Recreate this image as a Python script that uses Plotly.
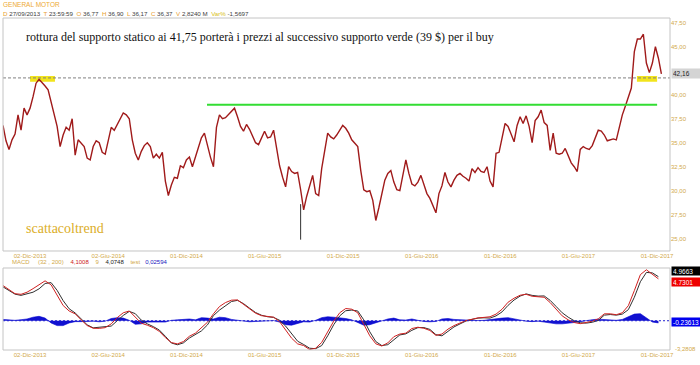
import plotly.graph_objects as go
import pandas as pd

# ---------------- data ----------------
series_start = "2013-09-30"

# weekly closes (GM, Sep 2013 - Dec 2017)
price_close = [
    36.8, 35.2, 34.3, 35.3, 35.9, 37.9, 36.3, 38.6, 37.9, 38.6,
    39.8, 41.2, 41.6, 41.3, 40.9, 40.5, 39.3, 37.8, 36.7, 34.6,
    35.8, 36.6, 36.3, 37.5, 33.7, 35.3, 35.0, 34.6, 33.4, 33.2,
    34.6, 35.2, 35.0, 34.0, 33.8, 35.2, 36.6, 36.3, 36.9, 37.5,
    38.1, 37.9, 37.5, 35.3, 33.9, 33.2, 34.1, 34.7, 35.0, 34.6,
    33.4, 33.8, 33.4, 34.0, 31.0, 29.5, 30.6, 31.4, 31.3, 32.6,
    32.4, 33.2, 33.5, 32.5, 33.5, 34.6, 35.5, 36.0, 34.6, 33.5,
    32.5, 36.6, 37.9, 37.5, 37.6, 37.9, 38.3, 38.6, 37.7, 36.7,
    36.2, 36.9, 36.4, 35.6, 35.0, 34.8, 35.5, 36.2, 35.5, 35.6,
    36.3, 34.2, 32.6, 31.4, 30.4, 32.5, 32.0, 31.8, 31.9, 30.1,
    28.0, 29.4, 30.6, 31.6, 29.7, 29.5, 32.3, 34.0, 36.0, 35.6,
    35.4, 35.8, 36.3, 36.8, 36.5, 36.0, 35.3, 34.9, 34.6, 32.1,
    30.1, 29.9, 30.0, 29.0, 26.9, 28.2, 29.5, 31.1, 31.8, 32.1,
    30.9, 30.1, 30.0, 31.6, 33.2, 31.8, 30.7, 30.5, 30.9, 31.6,
    30.6, 29.7, 29.2, 28.5, 27.7, 29.7, 30.5, 31.9, 30.9, 30.4,
    31.1, 31.6, 31.8, 31.5, 31.3, 31.0, 32.3, 31.9, 32.4, 32.0,
    31.9, 32.5, 31.0, 30.4, 33.9, 34.0, 35.4, 37.0, 36.7, 35.8,
    35.1, 36.8, 37.7, 37.0, 37.8, 36.7, 35.0, 37.3, 37.7, 38.4,
    37.1, 36.8, 34.2, 36.0, 33.9, 33.8, 33.9, 34.4, 33.6, 32.9,
    32.5, 32.0, 34.3, 34.6, 34.4, 34.3, 34.7, 35.6, 36.3, 36.2,
    35.8, 35.2, 35.3, 35.4, 35.3, 36.7, 37.9, 38.8, 39.8, 40.7,
    44.5, 45.8, 45.8, 46.3, 43.3, 42.3, 43.3, 45.0, 43.8, 42.16,
]

# flash-crash spike (Aug 2015)
spike_dates = ["2015-08-24", "2015-08-24"]
spike_values = [28.6, 24.9]

# MACD (32,200) / signal (9) / histogram, read every two weeks
macd_line = [
    3.97, 3.48, 3.05, 2.98, 3.22, 3.62, 4.10, 4.50, 4.05, 2.88,
    1.72, 1.10, 0.78, 0.10, -0.54, -0.85, -0.86, -0.78, -0.35, 0.35,
    0.90, 1.10, 0.40, -0.28, -0.50, -0.78, -1.20, -1.90, -2.46, -2.61,
    -2.35, -1.75, -1.40, -0.80, -0.17, 0.78, 1.60, 2.05, 2.32, 2.35,
    1.85, 1.30, 0.85, 0.57, 0.47, 0.40, -0.10, -1.05, -1.97, -2.61,
    -2.80, -3.25, -3.10, -2.45, -1.25, -0.05, 0.90, 1.38, 1.30, 0.90,
    -0.40, -1.70, -2.60, -2.85, -2.50, -1.80, -1.50, -1.40, -0.88, -0.73,
    -0.85, -1.10, -1.65, -1.50, -0.95, -0.55, -0.26, 0.02, 0.17, 0.32,
    0.38, 0.45, 0.75, 1.30, 2.09, 2.54, 2.88, 2.98, 2.76, 2.73,
    2.65, 2.05, 1.25, 0.55, 0.10, -0.20, -0.33, -0.22, -0.05, 0.21,
    0.78, 0.78, 0.68, 0.90, 1.70, 3.40, 5.20, 5.75, 5.25, 4.73,
]
signal_line = [
    3.82, 3.38, 3.00, 2.86, 3.02, 3.22, 3.60, 4.20, 4.30, 3.43,
    2.27, 1.35, 0.88, 0.20, -0.46, -0.80, -0.74, -0.73, -0.60, 0.00,
    0.60, 1.05, 0.80, 0.07, -0.35, -0.66, -1.05, -1.75, -2.51, -2.71,
    -2.50, -1.95, -1.50, -1.15, -0.47, 0.58, 1.20, 1.70, 2.17, 2.30,
    1.93, 1.42, 0.93, 0.62, 0.45, 0.38, 0.05, -0.60, -1.47, -2.31,
    -2.68, -3.10, -3.15, -2.80, -1.70, -0.45, 0.55, 1.13, 1.20, 1.10,
    0.10, -1.25, -2.35, -2.80, -2.70, -2.10, -1.60, -1.48, -1.08, -0.78,
    -0.77, -0.98, -1.57, -1.70, -1.20, -0.70, -0.36, -0.03, 0.15, 0.30,
    0.33, 0.30, 0.55, 1.00, 1.74, 2.34, 2.78, 3.03, 2.86, 2.78,
    2.80, 2.30, 1.60, 0.90, 0.40, 0.00, -0.23, -0.27, -0.17, 0.03,
    0.63, 0.70, 0.63, 0.75, 1.25, 2.65, 4.40, 5.45, 5.40, 4.97,
]
macd_hist = [
    0.15, 0.10, 0.05, 0.12, 0.20, 0.40, 0.50, 0.30, -0.25, -0.55,
    -0.55, -0.25, -0.10, -0.10, -0.08, -0.05, -0.12, -0.05, 0.25, 0.35,
    0.30, 0.05, -0.40, -0.35, -0.15, -0.12, -0.15, -0.15, 0.05, 0.10,
    0.15, 0.20, 0.10, 0.35, 0.30, 0.20, 0.40, 0.35, 0.15, 0.05,
    -0.08, -0.12, -0.08, -0.05, 0.02, 0.02, -0.15, -0.45, -0.50, -0.30,
    -0.12, -0.15, 0.05, 0.35, 0.45, 0.40, 0.35, 0.25, 0.10, -0.20,
    -0.50, -0.45, -0.25, -0.05, 0.20, 0.30, 0.10, 0.08, 0.20, 0.05,
    -0.08, -0.12, -0.08, 0.20, 0.25, 0.15, 0.10, 0.05, 0.02, 0.02,
    0.05, 0.15, 0.20, 0.30, 0.35, 0.20, 0.10, -0.05, -0.10, -0.05,
    -0.15, -0.25, -0.35, -0.35, -0.30, -0.20, -0.10, 0.05, 0.12, 0.18,
    0.15, 0.08, 0.05, 0.15, 0.45, 0.75, 0.80, 0.30, -0.15, -0.24,
]

tick_dates = ["2013-12-02", "2014-06-02", "2014-12-01", "2015-06-01", "2015-12-01",
              "2016-06-01", "2016-12-01", "2017-06-01", "2017-12-01"]
tick_labels = ["02-Dic-2013", "02-Giu-2014", "01-Dic-2014", "01-Giu-2015", "01-Dic-2015",
               "01-Giu-2016", "01-Dic-2016", "01-Giu-2017", "01-Dic-2017"]
# 42,50 is hidden behind the last-price box in the reference
price_ticks = [25.0, 27.5, 30.0, 32.5, 35.0, 37.5, 40.0, 45.0, 47.5]
price_tick_labels = ["25,00", "27,50", "30,00", "32,50", "35,00", "37,50", "40,00", "45,00", "47,50"]

static_support = 41.75
green_support = 38.95
green_span = ["2015-01-18", "2017-12-01"]
highlight_spans = [("2013-12-02", "2014-01-29"), ("2017-10-15", "2017-12-01")]
highlight_band = [41.35, 41.95]
last_price = 42.16

# ---------------- figure ----------------
GOLD = "#d2a94a"
SANS = "Liberation Sans, Arial, sans-serif"
SERIF = "Liberation Serif, Times New Roman, serif"

week_dates = pd.date_range(series_start, periods=len(price_close), freq="7D")
macd_dates = pd.date_range(series_start, periods=len(macd_line), freq="14D")
x_range = ["2013-09-30", "2017-12-31"]

fig = go.Figure()
fig.add_trace(go.Scatter(x=spike_dates, y=spike_values, mode="lines",
                         line=dict(color="#303030", width=1), xaxis="x", yaxis="y"))
fig.add_trace(go.Scatter(x=week_dates, y=price_close, mode="lines",
                         line=dict(color="#a01a1a", width=1.4), xaxis="x", yaxis="y"))

fig.add_trace(go.Scatter(x=macd_dates, y=macd_hist, mode="lines", fill="tozeroy",
                         line=dict(color="#0000d0", width=0.6), fillcolor="#1010d0",
                         xaxis="x2", yaxis="y2"))
fig.add_trace(go.Scatter(x=macd_dates, y=signal_line, mode="lines",
                         line=dict(color="#303030", width=1), xaxis="x2", yaxis="y2"))
fig.add_trace(go.Scatter(x=macd_dates, y=macd_line, mode="lines",
                         line=dict(color="#d02020", width=1), xaxis="x2", yaxis="y2"))

shapes = []
for (a, b) in highlight_spans:
    shapes.append(dict(type="rect", xref="x", yref="y", x0=a, x1=b,
                       y0=highlight_band[0], y1=highlight_band[1],
                       fillcolor="#f2e41c", line=dict(width=0), layer="below"))
shapes.append(dict(type="line", xref="paper", yref="y", x0=0, x1=1,
                   y0=static_support, y1=static_support,
                   line=dict(color="#808080", width=1, dash="3px,2px")))
shapes.append(dict(type="line", xref="x", yref="y", x0=green_span[0], x1=green_span[1],
                   y0=green_support, y1=green_support,
                   line=dict(color="#33dd33", width=2)))
shapes.append(dict(type="line", xref="paper", yref="y2", x0=0, x1=1, y0=0, y1=0,
                   line=dict(color="#2020d0", width=1, dash="2px,2px")))
MAIN_DOM = [0.2982, 1.0]
MACD_DOM = [0.0, 0.247]
for dom in (MAIN_DOM, MACD_DOM):
    shapes.append(dict(type="rect", xref="paper", yref="paper", x0=0, x1=1,
                       y0=dom[0], y1=dom[1], line=dict(color="#c4c4c4", width=1),
                       fillcolor="rgba(0,0,0,0)"))

annotations = [
    dict(xref="paper", yref="paper", x=-0.003, y=1.041, xanchor="left", yanchor="middle",
         text="GENERAL MOTOR", showarrow=False, font=dict(family=SANS, size=6.5, color="#eeaa33")),
    dict(xref="paper", yref="paper", x=-0.003, y=1.0145, xanchor="left", yanchor="middle",
         text=("<span style='color:#e8a030'>D</span> 27/09/2013  <span style='color:#e8a030'>T</span> 23:59:59  "
               "<span style='color:#e8a030'>O</span> 36,77  <span style='color:#e8a030'>H</span> 36,90  "
               "<span style='color:#e8a030'>L</span> 36,17  <span style='color:#e8a030'>C</span> 36,37  "
               "<span style='color:#e8a030'>V</span> 2,8240 M  <span style='color:#d8c020'>Var%</span> -1,5697"),
         showarrow=False, font=dict(family=SANS, size=6.2, color="#404040")),
    dict(xref="paper", yref="paper", x=0.0315, y=0.9428, xanchor="left", yanchor="middle",
         text="rottura del supporto statico ai 41,75 porterà i prezzi al successivo supporto verde (39 $) per il buy",
         showarrow=False, font=dict(family=SERIF, size=12, color="#111111")),
    dict(xref="paper", yref="paper", x=0.0315, y=0.3645, xanchor="left", yanchor="middle",
         text="scattacoltrend", showarrow=False, font=dict(family=SERIF, size=14, color="#dcae28")),
    dict(xref="paper", yref="paper", x=0.011, y=0.265, xanchor="left", yanchor="middle",
         text=("<span style='color:#d2a94a'>MACD</span>     <span style='color:#d2a94a'>(32 , 200)</span>    "
               "<span style='color:#cc2020'>4,1008</span>    <span style='color:#d2a94a'>9</span>    "
               "<span style='color:#222222'>4,0748</span>    <span style='color:#d2a94a'>test</span>   "
               "<span style='color:#2020c0'>0,02594</span>"),
         showarrow=False, font=dict(family=SANS, size=6, color=GOLD)),
    dict(xref="paper", yref="y", x=1.0015, y=last_price, xanchor="left", yanchor="middle",
         text="42,16", showarrow=False, bgcolor="#d4d4d4", width=26, height=7, align="left",
         font=dict(family=SANS, size=6.5, color="#222222")),
    dict(xref="paper", yref="paper", x=1.0015, y=0.238, xanchor="left", yanchor="middle",
         text="4,9663", showarrow=False, bgcolor="#000000", width=26, height=6, align="left",
         font=dict(family=SANS, size=6.5, color="#ffffff")),
    dict(xref="paper", yref="paper", x=1.0015, y=0.2048, xanchor="left", yanchor="middle",
         text="4,7301", showarrow=False, bgcolor="#ee0000", width=26, height=6, align="left",
         font=dict(family=SANS, size=6.5, color="#ffffff")),
    dict(xref="paper", yref="paper", x=1.0015, y=0.084, xanchor="left", yanchor="middle",
         text="-0,23613", showarrow=False, bgcolor="#0000ee", width=26, height=6, align="left",
         font=dict(family=SANS, size=6.5, color="#ffffff")),
    dict(xref="paper", yref="paper", x=1.004, y=0.003, xanchor="left", yanchor="middle",
         text="-3,2808", showarrow=False, font=dict(family=SANS, size=6, color=GOLD)),
]

axis_common = dict(showgrid=False, zeroline=False, showline=False, ticks="")
fig.update_layout(
    width=700, height=365,
    margin=dict(l=3, r=30, t=18, b=15),
    paper_bgcolor="white", plot_bgcolor="white",
    showlegend=False,
    xaxis=dict(domain=[0, 1], anchor="y", range=x_range, tickmode="array",
               tickvals=tick_dates, ticktext=tick_labels,
               tickfont=dict(family=SANS, size=6, color=GOLD), **axis_common),
    yaxis=dict(domain=MAIN_DOM, anchor="x", side="right", range=[23.72, 47.99],
               tickmode="array", tickvals=price_ticks, ticktext=price_tick_labels,
               tickfont=dict(family=SANS, size=6, color=GOLD), **axis_common),
    xaxis2=dict(domain=[0, 1], anchor="y2", range=x_range, tickmode="array",
                tickvals=tick_dates, ticktext=tick_labels,
                tickfont=dict(family=SANS, size=6, color=GOLD), **axis_common),
    yaxis2=dict(domain=MACD_DOM, anchor="x2", side="right", range=[-3.30, 5.95],
                showticklabels=False, **axis_common),
    shapes=shapes,
    annotations=annotations,
)

fig.write_html("out.html", config={"displayModeBar": False},
               post_script="document.body.style.margin='0';document.body.style.padding='0';")
